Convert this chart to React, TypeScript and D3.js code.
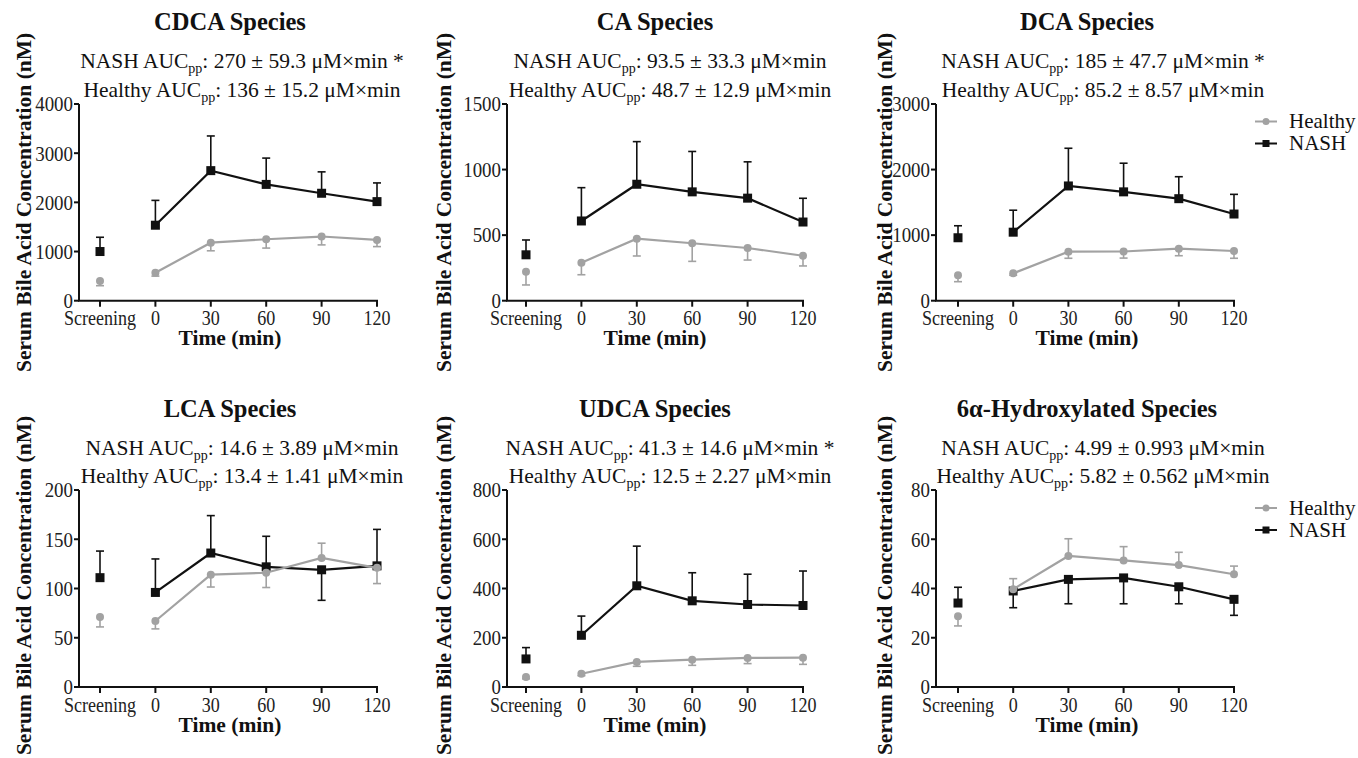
import React from 'react';
import * as d3 from 'd3';

// ---------- data ----------
const categories = ['Screening', '0', '30', '60', '90', '120'];
const panelTitles = ['CDCA Species', 'CA Species', 'DCA Species', 'LCA Species', 'UDCA Species', '6α-Hydroxylated Species'];
const nashAUC = ['270 ± 59.3', '93.5 ± 33.3', '185 ± 47.7', '14.6 ± 3.89', '41.3 ± 14.6', '4.99 ± 0.993'];
const nashSignificant = [true, false, true, false, true, false];
const healthyAUC = ['136 ± 15.2', '48.7 ± 12.9', '85.2 ± 8.57', '13.4 ± 1.41', '12.5 ± 2.27', '5.82 ± 0.562'];
const yMax = [4000, 1500, 3000, 200, 800, 80];
const yTicks = [
  [0, 1000, 2000, 3000, 4000],
  [0, 500, 1000, 1500],
  [0, 1000, 2000, 3000],
  [0, 50, 100, 150, 200],
  [0, 200, 400, 600, 800],
  [0, 20, 40, 60, 80],
];
const nashMean = [
  [1000, 1535, 2645, 2365, 2185, 2015],
  [350, 608, 888, 830, 782, 600],
  [960, 1045, 1750, 1660, 1556, 1322],
  [111, 96, 136, 122, 119, 123],
  [114, 210, 411, 350, 335, 331],
  [34.1, 39, 43.7, 44.3, 40.7, 35.6],
];
const nashSEM = [
  [290, 505, 705, 535, 435, 380],
  [113, 254, 325, 308, 277, 181],
  [183, 335, 575, 437, 335, 300],
  [27, 34, 38, 31, 31, 37],
  [46, 78, 161, 114, 123, 140],
  [6.4, 6.8, 9.9, 10.5, 6.9, 6.5],
];
const healthyMean = [
  [400, 570, 1180, 1250, 1305, 1235],
  [220, 290, 473, 438, 402, 343],
  [387, 418, 747, 750, 793, 758],
  [71, 67, 114, 116, 131, 121],
  [41, 54, 102, 111, 118, 119],
  [28.7, 39.7, 53.2, 51.4, 49.5, 45.8],
];
const healthySEM = [
  [95, 70, 165, 180, 170, 135],
  [100, 92, 132, 138, 92, 78],
  [97, 30, 100, 100, 107, 111],
  [10, 8, 12.5, 15, 15, 16],
  [8, 8, 18, 23, 23, 27],
  [3.9, 4.3, 7, 5.6, 5.2, 3.3],
];
const seriesNames = ['Healthy', 'NASH'];
const xLabel = 'Time (min)';
const yLabel = 'Serum Bile Acid Concentration (nM)';

// ---------- layout ----------
const W = 1358;
const H = 758;
const FONT = "'Liberation Serif', 'Times New Roman', Times, serif";
const GRAY = '#a2a2a2';
const COLS = [
  { axisX: 79, first: 100, last: 377, labelX: 31, titleX: 230, subX: 242 },
  { axisX: 507, first: 526, last: 803, labelX: 451, titleX: 655, subX: 670 },
  { axisX: 936, first: 958, last: 1234, labelX: 892, titleX: 1087, subX: 1103 },
];
const ROWS = [
  { top: 104, bottom: 300.7, title: 30, sub1: 68, sub2: 97, tickBase: 325, timeBase: 345, legend: 121.5, labelShift: 0 },
  { top: 490, bottom: 687, title: 416.5, sub1: 455, sub2: 483, tickBase: 711.5, timeBase: 731.5, legend: 508, labelShift: -3 },
];

function AucLine({ x, y, group, value, star }: { x: number; y: number; group: string; value: string; star: boolean }) {
  return (
    <text x={x} y={y} textAnchor="middle" fontSize={21.5} fontFamily={FONT} fill="#111">
      <tspan>{group} AUC</tspan>
      <tspan fontSize={14} dy={5}>pp</tspan>
      <tspan dy={-5}>{`: ${value} μM×min${star ? ' *' : ''}`}</tspan>
    </text>
  );
}

function Panel({ idx }: { idx: number }) {
  const col = COLS[idx % 3];
  const row = ROWS[Math.floor(idx / 3)];
  const x = d3.scalePoint<string>().domain(categories).range([col.first, col.last]);
  const y = d3.scaleLinear().domain([0, yMax[idx]]).range([row.bottom, row.top]);
  const nm = nashMean[idx];
  const hm = healthyMean[idx];
  const line = d3
    .line<number>()
    .x((_, i) => x(categories[i + 1]) as number)
    .y((d) => y(d));

  const errBar = (cat: string, mean: number, sem: number, up: boolean, color: string, key: string) => {
    const cx = x(cat) as number;
    const y0 = y(mean);
    const y1 = y(up ? mean + sem : mean - sem);
    return (
      <g key={key} stroke={color} strokeWidth={1.6}>
        <line x1={cx} x2={cx} y1={y0} y2={y1} />
        <line x1={cx - 4} x2={cx + 4} y1={y1} y2={y1} />
      </g>
    );
  };

  return (
    <g>
      {/* title & AUC */}
      <text x={col.titleX} y={row.title} textAnchor="middle" fontSize={24.5} fontWeight="bold" fontFamily={FONT} fill="#111">
        {panelTitles[idx]}
      </text>
      <AucLine x={col.subX} y={row.sub1} group="NASH" value={nashAUC[idx]} star={nashSignificant[idx]} />
      <AucLine x={col.subX} y={row.sub2} group="Healthy" value={healthyAUC[idx]} star={false} />

      {/* y label */}
      <text
        transform={`translate(${col.labelX},${(row.top + row.bottom) / 2 + row.labelShift}) rotate(-90)`}
        textAnchor="middle"
        fontSize={21.5}
        fontWeight="bold"
        fontFamily={FONT}
        fill="#111"
      >
        {yLabel}
      </text>

      {/* axes */}
      <line x1={col.axisX} x2={col.axisX} y1={row.top} y2={row.bottom} stroke="#111" strokeWidth={2} />
      <line x1={col.axisX - 1} x2={col.last + 1} y1={row.bottom} y2={row.bottom} stroke="#111" strokeWidth={2} />
      {yTicks[idx].map((t) => (
        <g key={'yt' + t}>
          <line x1={col.axisX - 5} x2={col.axisX} y1={y(t)} y2={y(t)} stroke="#111" strokeWidth={2} />
          <text
            transform={`translate(${col.axisX - 6},${y(t)}) scale(0.9,1)`}
            textAnchor="end"
            dy="0.35em"
            fontSize={21}
            fontFamily={FONT}
            fill="#222"
          >
            {t}
          </text>
        </g>
      ))}
      {categories.map((c) => (
        <g key={'xt' + c}>
          <line x1={x(c)} x2={x(c)} y1={row.bottom} y2={row.bottom + 6} stroke="#111" strokeWidth={2} />
          <text
            transform={`translate(${x(c)},${row.tickBase}) scale(0.86,1)`}
            textAnchor="middle"
            fontSize={21}
            fontFamily={FONT}
            fill="#222"
          >
            {c}
          </text>
        </g>
      ))}
      <text x={col.titleX} y={row.timeBase} textAnchor="middle" fontSize={21.5} fontWeight="bold" fontFamily={FONT} fill="#111">
        {xLabel}
      </text>

      {/* NASH series */}
      {categories.map((c, i) =>
        errBar(c, nm[i], nashSEM[idx][i], nm[i] >= hm[i], '#111', 'ne' + i)
      )}
      <path d={line(nm.slice(1)) || ''} fill="none" stroke="#111" strokeWidth={2.2} />
      {categories.map((c, i) => (
        <rect key={'ns' + i} x={(x(c) as number) - 4.5} y={y(nm[i]) - 4.5} width={9} height={9} fill="#111" />
      ))}

      {/* Healthy series */}
      {categories.map((c, i) =>
        errBar(c, hm[i], healthySEM[idx][i], hm[i] > nm[i], GRAY, 'he' + i)
      )}
      <path d={line(hm.slice(1)) || ''} fill="none" stroke={GRAY} strokeWidth={2.2} />
      {categories.map((c, i) => (
        <circle key={'hc' + i} cx={x(c) as number} cy={y(hm[i])} r={4} fill={GRAY} />
      ))}

      {/* legend */}
      {idx % 3 === 2 && (
        <g fontFamily={FONT} fontSize={21} fill="#111">
          <line x1={1255} x2={1277} y1={row.legend} y2={row.legend} stroke={GRAY} strokeWidth={2} />
          <circle cx={1266} cy={row.legend} r={3.5} fill={GRAY} />
          <text x={1289} y={row.legend} dy="0.33em">{seriesNames[0]}</text>
          <line x1={1255} x2={1277} y1={row.legend + 22} y2={row.legend + 22} stroke="#111" strokeWidth={2} />
          <rect x={1262.5} y={row.legend + 18.5} width={7} height={7} fill="#111" />
          <text x={1289} y={row.legend + 22} dy="0.33em">{seriesNames[1]}</text>
        </g>
      )}
    </g>
  );
}

export default function App() {
  return (
    <svg
      width={W}
      height={H}
      viewBox={`0 0 ${W} ${H}`}
      style={{ position: 'absolute', left: 0, top: 0, background: '#fff' }}
    >
      <rect width={W} height={H} fill="#fff" />
      {panelTitles.map((_, i) => (
        <Panel key={i} idx={i} />
      ))}
    </svg>
  );
}
